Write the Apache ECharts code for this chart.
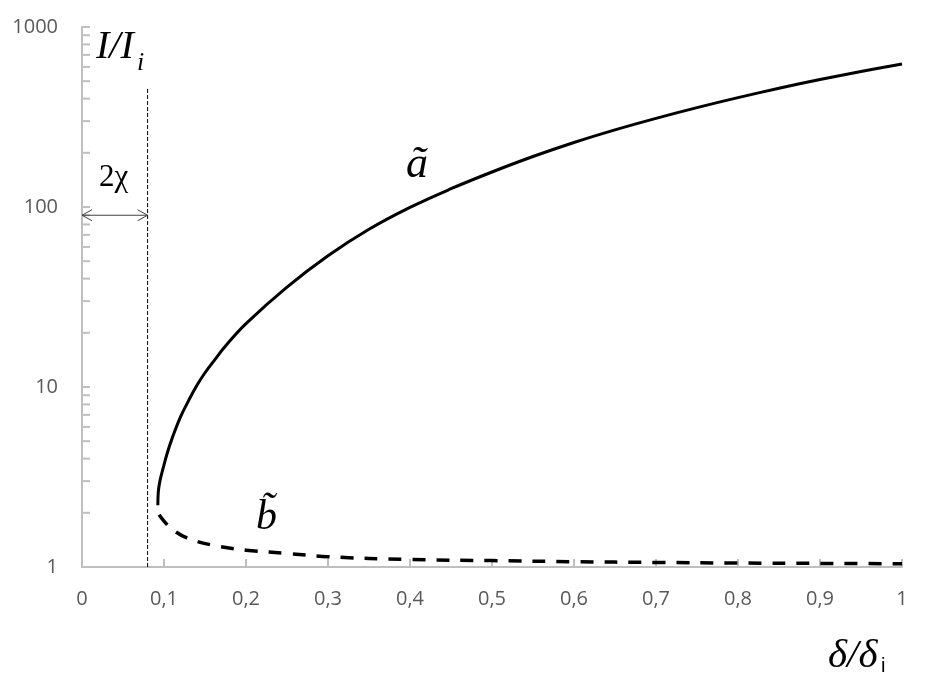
<!DOCTYPE html>
<html>
<head>
<meta charset="utf-8">
<script src="https://cdn.jsdelivr.net/npm/echarts@6/dist/echarts.min.js"></script>
<style>html,body{margin:0;padding:0;background:#fff;}#chart{width:944px;height:679px;}</style>
</head>
<body>
<div id="chart"></div>
<script>
// x values (delta/delta_i) and I/I_i values for branch a (solid)
const aX = [0.0925, 0.093, 0.095, 0.099, 0.104, 0.11, 0.12, 0.13, 0.14, 0.15, 0.16, 0.175, 0.2, 0.25, 0.3, 0.35, 0.4, 0.45, 0.5, 0.55, 0.6, 0.65, 0.7, 0.75, 0.8, 0.85, 0.9, 0.95, 1.0];
const aY = [2.2, 2.6, 3.0, 3.55, 4.3, 5.2, 6.8, 8.4, 10.2, 12.0, 13.8, 16.9, 22.5, 35.9, 53.6, 75.2, 99.5, 126.3, 156.5, 190.8, 228.3, 268.3, 310.8, 356.5, 405.1, 456.6, 510.5, 566.2, 623.7];
// branch b (dashed)
const bX = [0.094, 0.1, 0.11, 0.128, 0.16, 0.2, 0.25, 0.3, 0.4, 0.5, 0.6, 0.7, 0.8, 0.9, 1.0];
const bY = [1.95, 1.8, 1.62, 1.45, 1.32, 1.24, 1.19, 1.14, 1.10, 1.085, 1.07, 1.06, 1.052, 1.047, 1.043];
// 2chi marker
const chiX = 0.08;
const chiLineY = [1, 464];
const arrowY = 90;
// axis ticks / labels
const xTickLabels = ['0', '0,1', '0,2', '0,3', '0,4', '0,5', '0,6', '0,7', '0,8', '0,9', '1'];
const yTickLabels = {1: '1', 10: '10', 100: '100', 1000: '1000'};
const yMinorTicks = [2,3,4,5,6,7,8,9,20,30,40,50,60,70,80,90,200,300,400,500,600,700,800,900];

const axisGray = '#bfbfbf';
const labelGray = '#595959';

const chart = echarts.init(document.getElementById('chart'), null, {renderer: 'canvas'});

const option = {
  animation: false,
  backgroundColor: '#fff',
  grid: {left: 82, right: 42, top: 27, bottom: 112, containLabel: false},
  xAxis: {
    type: 'value', min: 0, max: 1, interval: 0.1,
    axisLine: {show: true, lineStyle: {color: axisGray, width: 2}},
    axisTick: {show: true, inside: true, length: 8, lineStyle: {color: axisGray, width: 2}},
    splitLine: {show: false},
    axisLabel: {
      color: labelGray, fontFamily: 'Open Sans', fontSize: 20, margin: 22,
      formatter: function (v) { return xTickLabels[Math.round(v * 10)]; }
    }
  },
  yAxis: {
    type: 'log', logBase: 10, min: 1, max: 1000,
    axisLine: {show: true, lineStyle: {color: axisGray, width: 2}},
    axisTick: {show: true, inside: true, length: 8, lineStyle: {color: axisGray, width: 2}},
    splitLine: {show: false},
    axisLabel: {
      color: labelGray, fontFamily: 'Open Sans', fontSize: 20, margin: 24,
      formatter: function (v) { return yTickLabels[Math.round(v)] || String(Math.round(v)); }
    }
  },
  series: [
    {
      type: 'custom', silent: true, z: 1,
      data: yMinorTicks.map(v => [0, v]),
      renderItem: function (params, api) {
        const p = api.coord([0, api.value(1)]);
        return {type: 'line', shape: {x1: p[0], y1: p[1], x2: p[0] + 8, y2: p[1]},
          style: {stroke: axisGray, lineWidth: 2}};
      }
    },
    {
      type: 'line', silent: true, showSymbol: false, z: 2,
      data: [[chiX, chiLineY[0]], [chiX, chiLineY[1]]],
      lineStyle: {color: '#000', width: 1, type: [4, 2]}
    },
    {
      type: 'custom', silent: true, z: 3,
      data: [[0, chiX, arrowY]],
      renderItem: function (params, api) {
        const p0 = api.coord([api.value(0), api.value(2)]);
        const p1 = api.coord([api.value(1), api.value(2)]);
        const s = {stroke: '#404040', lineWidth: 1, fill: null};
        return {type: 'group', children: [
          {type: 'line', shape: {x1: p0[0], y1: p0[1], x2: p1[0], y2: p1[1]}, style: s},
          {type: 'polyline', shape: {points: [[p0[0] + 10, p0[1] - 5.5], [p0[0], p0[1]], [p0[0] + 10, p0[1] + 5.5]]}, style: s},
          {type: 'polyline', shape: {points: [[p1[0] - 10, p1[1] - 5.5], [p1[0], p1[1]], [p1[0] - 10, p1[1] + 5.5]]}, style: s}
        ]};
      }
    },
    {
      name: 'a', type: 'line', showSymbol: false, smooth: 0.4, z: 4,
      data: aX.map((x, i) => [x, aY[i]]),
      lineStyle: {color: '#000', width: 3}
    },
    {
      name: 'b', type: 'line', showSymbol: false, smooth: 0.4, z: 4,
      data: bX.map((x, i) => [x, bY[i]]),
      lineStyle: {color: '#000', width: 3.5, type: [13, 11]}
    }
  ],
  graphic: [
    {type: 'text', left: 96, top: 27, style: {text: 'I/I', font: 'italic 40px "Liberation Serif"', fill: '#000'}},
    {type: 'text', left: 137, top: 50, style: {text: 'i', font: 'italic 26px "Liberation Serif"', fill: '#000'}},
    {type: 'text', left: 99, top: 162, style: {text: '2χ', font: '31px "Liberation Serif"', fill: '#000'}},
    {type: 'text', left: 406, top: 143, style: {text: 'ã', font: 'italic 44px "Liberation Serif"', fill: '#000'}},
    {type: 'text', left: 256, top: 497, style: {text: 'b\u0303', font: 'italic 42px "Liberation Serif"', fill: '#000'}},
    {type: 'text', left: 828, top: 636, style: {text: 'δ/δ', font: 'italic 41px "Liberation Serif"', fill: '#000'}},
    {type: 'text', left: 881, top: 656, style: {text: 'i', font: '20px "Liberation Sans"', fill: '#000'}}
  ]
};
chart.setOption(option);
</script>
</body>
</html>
